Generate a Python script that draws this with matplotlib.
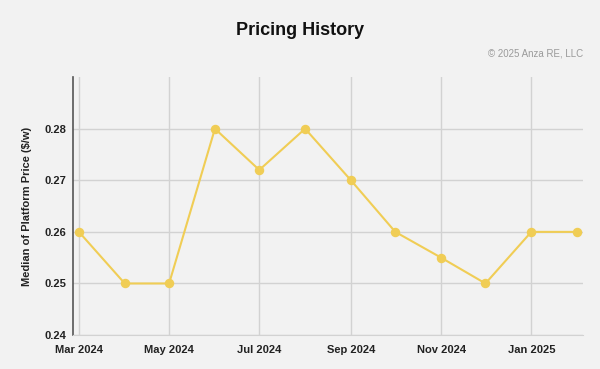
import matplotlib
matplotlib.use("Agg")
import matplotlib.pyplot as plt
import matplotlib.dates as mdates
from datetime import date

plt.rcParams["font.family"] = ["Liberation Sans", "DejaVu Sans"]

months = [date(2024, m, 1) for m in range(3, 13)] + [date(2025, 1, 1), date(2025, 2, 1)]
prices = [0.26, 0.25, 0.25, 0.28, 0.272, 0.28, 0.27, 0.26, 0.255, 0.25, 0.26, 0.26]
tick_dates = [date(2024, 3, 1), date(2024, 5, 1), date(2024, 7, 1),
              date(2024, 9, 1), date(2024, 11, 1), date(2025, 1, 1)]
y_ticks = [0.24, 0.25, 0.26, 0.27, 0.28]

BG = "#f2f2f2"
fig = plt.figure(figsize=(6, 3.69), dpi=100, facecolor=BG)
ax = fig.add_axes([0.1217, 0.092, 0.85, 0.699], facecolor=BG)

ax.plot(months, prices, color="#f0cd55", lw=1.5, marker="o", ms=5.8, zorder=3)

ax.set_xlim(date(2024, 2, 26), date(2025, 2, 5))
ax.set_ylim(0.24, 0.29)
ax.set_xticks(tick_dates)
ax.xaxis.set_major_formatter(mdates.DateFormatter("%b %Y"))
ax.set_yticks(y_ticks)
ax.set_yticklabels([f"{v:.2f}" for v in y_ticks])
ax.grid(color="#d2d2d2", lw=1)
ax.set_axisbelow(True)

for s in ("top", "right"):
    ax.spines[s].set_visible(False)
ax.spines["left"].set_color("#555555")
ax.spines["left"].set_linewidth(1.2)
ax.spines["bottom"].set_color("#d2d2d2")
ax.tick_params(length=0, labelsize=8, colors="#222222")
ax.tick_params(axis="x", pad=7)
ax.tick_params(axis="y", pad=5)
for lab in ax.get_xticklabels() + ax.get_yticklabels():
    lab.set_fontweight("bold")

ax.set_ylabel("Median of Platform Price ($/w)", fontsize=8, fontweight="bold",
              color="#222222", labelpad=9)

fig.text(0.5, 0.918, "Pricing History", ha="center", va="center",
         fontsize=13, fontweight="bold", color="#111111")
fig.text(0.972, 0.856, "© 2025 Anza RE, LLC", ha="right", va="center",
         fontsize=7, color="#9a9a9a")

fig.savefig("out.png", dpi=100, facecolor=BG)
